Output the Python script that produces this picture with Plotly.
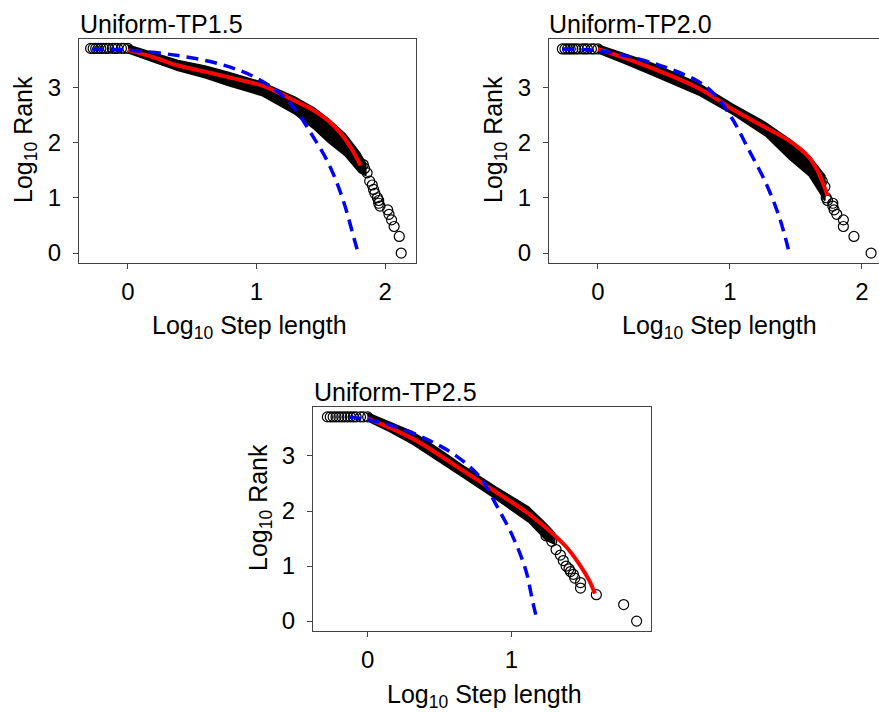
import plotly.graph_objects as go

W, H = 879, 713

# ---------------- data ----------------
titles = ["Uniform-TP1.5", "Uniform-TP2.0", "Uniform-TP2.5"]

# Panel 1 : Uniform-TP1.5
p1_flat_x = [-0.29, -0.27, -0.25, -0.23, -0.21, -0.19, -0.17, -0.15, -0.12, -0.10, -0.08, -0.05, -0.03, 0.0]
p1_flat_y = [3.70, 3.70, 3.70, 3.70, 3.70, 3.70, 3.70, 3.70, 3.70, 3.70, 3.70, 3.70, 3.70, 3.70]
p1_band_x = [0.0, 0.2, 0.39, 0.6, 0.78, 1.04, 1.30, 1.45, 1.56, 1.69, 1.80, 1.85]
p1_band_hi = [3.76, 3.62, 3.48, 3.38, 3.27, 3.09, 2.82, 2.62, 2.42, 2.15, 1.82, 1.62]
p1_band_lo = [3.62, 3.46, 3.30, 3.17, 3.03, 2.85, 2.51, 2.24, 2.00, 1.76, 1.46, 1.40]
p1_tail_x = [1.83, 1.84, 1.86, 1.88, 1.90, 1.91, 1.92, 1.94, 1.95, 1.95, 1.96, 2.02, 2.03, 2.05, 2.07, 2.11, 2.125]
p1_tail_y = [1.60, 1.53, 1.45, 1.30, 1.23, 1.15, 1.08, 1.00, 0.95, 0.90, 0.85, 0.78, 0.70, 0.60, 0.48, 0.30, 0.0]
p1_red_x = [0.0, 0.2, 0.39, 0.6, 0.78, 1.04, 1.17, 1.30, 1.43, 1.56, 1.66, 1.74, 1.81]
p1_red_y = [3.67, 3.54, 3.39, 3.28, 3.18, 3.03, 2.90, 2.75, 2.60, 2.39, 2.15, 1.88, 1.58]
p1_blue_x = [-0.28, 0.0, 0.39, 0.71, 0.96, 1.17, 1.30, 1.43, 1.56, 1.67, 1.76, 1.79]
p1_blue_y = [3.69, 3.67, 3.57, 3.42, 3.21, 2.91, 2.60, 2.14, 1.62, 0.98, 0.25, 0.0]

# Panel 2 : Uniform-TP2.0
p2_flat_x = [-0.27, -0.25, -0.23, -0.21, -0.19, -0.17, -0.15, -0.12, -0.10, -0.08, -0.05, -0.03, 0.0]
p2_flat_y = [3.69, 3.69, 3.69, 3.69, 3.69, 3.69, 3.69, 3.69, 3.69, 3.69, 3.69, 3.69, 3.69]
p2_band_x = [0.0, 0.2, 0.39, 0.6, 0.77, 1.02, 1.27, 1.45, 1.60, 1.72]
p2_band_hi = [3.76, 3.60, 3.45, 3.24, 3.06, 2.69, 2.36, 2.06, 1.76, 1.40]
p2_band_lo = [3.62, 3.43, 3.24, 3.03, 2.85, 2.51, 2.12, 1.70, 1.40, 0.95]
p2_tail_x = [1.70, 1.72, 1.73, 1.74, 1.78, 1.78, 1.79, 1.81, 1.86, 1.86, 1.94, 2.07]
p2_tail_y = [1.30, 1.20, 1.00, 0.95, 0.90, 0.85, 0.78, 0.70, 0.60, 0.48, 0.30, 0.0]
p2_red_x = [0.0, 0.39, 0.77, 1.02, 1.27, 1.45, 1.60, 1.67, 1.74]
p2_red_y = [3.69, 3.36, 2.97, 2.60, 2.27, 2.03, 1.73, 1.46, 1.04]
p2_blue_x = [-0.27, 0.0, 0.26, 0.51, 0.77, 0.89, 1.02, 1.14, 1.27, 1.37, 1.42, 1.45]
p2_blue_y = [3.69, 3.66, 3.54, 3.36, 3.09, 2.85, 2.42, 1.88, 1.28, 0.68, 0.28, 0.0]

# Panel 3 : Uniform-TP2.5
p3_flat_x = [-0.28, -0.26, -0.24, -0.22, -0.20, -0.18, -0.16, -0.14, -0.12, -0.10, -0.08, -0.05, -0.03, 0.0]
p3_flat_y = [3.71, 3.71, 3.71, 3.71, 3.71, 3.71, 3.71, 3.71, 3.71, 3.71, 3.71, 3.71, 3.71, 3.71]
p3_band_x = [0.0, 0.15, 0.31, 0.5, 0.66, 0.89, 1.12, 1.24, 1.30]
p3_band_hi = [3.78, 3.62, 3.44, 3.12, 2.83, 2.44, 2.07, 1.77, 1.60]
p3_band_lo = [3.64, 3.45, 3.22, 2.90, 2.62, 2.22, 1.80, 1.47, 1.40]
p3_tail_x = [1.24, 1.28, 1.31, 1.34, 1.36, 1.38, 1.40, 1.41, 1.43, 1.44, 1.48, 1.48, 1.59, 1.78, 1.87]
p3_tail_y = [1.55, 1.45, 1.30, 1.20, 1.10, 1.00, 0.95, 0.90, 0.85, 0.78, 0.70, 0.60, 0.48, 0.30, 0.0]
p3_red_x = [0.0, 0.31, 0.66, 0.89, 1.12, 1.26, 1.38, 1.47, 1.54, 1.58]
p3_red_y = [3.68, 3.32, 2.74, 2.35, 1.95, 1.65, 1.35, 1.04, 0.74, 0.50]
p3_blue_x = [-0.13, 0.0, 0.2, 0.43, 0.61, 0.78, 0.89, 1.01, 1.10, 1.15, 1.18]
p3_blue_y = [3.71, 3.66, 3.53, 3.28, 3.01, 2.62, 2.13, 1.53, 0.92, 0.32, 0.0]

x_ticks_12 = [0, 1, 2]
x_ticks_3 = [0, 1]
y_ticks = [0, 1, 2, 3]

panels = [
    dict(flat=(p1_flat_x, p1_flat_y), band=(p1_band_x, p1_band_hi, p1_band_lo),
         tail=(p1_tail_x, p1_tail_y), red=(p1_red_x, p1_red_y), blue=(p1_blue_x, p1_blue_y),
         xr=[-0.38, 2.24], yr=[-0.18, 3.87], xt=x_ticks_12,
         px=(79, 416), py=(39, 263)),
    dict(flat=(p2_flat_x, p2_flat_y), band=(p2_band_x, p2_band_hi, p2_band_lo),
         tail=(p2_tail_x, p2_tail_y), red=(p2_red_x, p2_red_y), blue=(p2_blue_x, p2_blue_y),
         xr=[-0.371, 2.13], yr=[-0.18, 3.87], xt=x_ticks_12,
         px=(549, 879), py=(39, 263)),
    dict(flat=(p3_flat_x, p3_flat_y), band=(p3_band_x, p3_band_hi, p3_band_lo),
         tail=(p3_tail_x, p3_tail_y), red=(p3_red_x, p3_red_y), blue=(p3_blue_x, p3_blue_y),
         xr=[-0.38, 1.97], yr=[-0.18, 3.89], xt=x_ticks_3,
         px=(313, 651), py=(407, 631)),
]

FONT = "Arial, Liberation Sans, Helvetica, sans-serif"
fig = go.Figure()
marker = dict(symbol="circle-open", size=10, color="black", line=dict(width=1.2, color="black"))

for i, p in enumerate(panels, start=1):
    xa = "x" if i == 1 else f"x{i}"
    ya = "y" if i == 1 else f"y{i}"
    bx, bhi, blo = p["band"]
    poly_x = list(bx) + list(reversed(bx))
    poly_y = list(bhi) + list(reversed(blo))
    fig.add_trace(go.Scatter(x=poly_x, y=poly_y, mode="lines", fill="toself",
                             fillcolor="black", line=dict(color="black", width=1.5),
                             xaxis=xa, yaxis=ya, showlegend=False, hoverinfo="skip"))
    fig.add_trace(go.Scatter(x=p["flat"][0], y=p["flat"][1], mode="markers", marker=marker,
                             xaxis=xa, yaxis=ya, showlegend=False))
    fig.add_trace(go.Scatter(x=p["tail"][0], y=p["tail"][1], mode="markers", marker=marker,
                             xaxis=xa, yaxis=ya, showlegend=False))
    fig.add_trace(go.Scatter(x=p["red"][0], y=p["red"][1], mode="lines",
                             line=dict(color="#ff0000", width=4, shape="spline"),
                             xaxis=xa, yaxis=ya, showlegend=False))
    fig.add_trace(go.Scatter(x=p["blue"][0], y=p["blue"][1], mode="lines",
                             line=dict(color="#0000ff", width=3.5, dash="12px,7px", shape="spline"),
                             xaxis=xa, yaxis=ya, showlegend=False))

    axis_common = dict(showgrid=False, zeroline=False, showline=True, mirror=True,
                       automargin=False,
                       linecolor="#444", linewidth=1, ticks="outside", ticklen=5,
                       tickcolor="#444", tickfont=dict(family=FONT, size=24, color="black"))
    xdom = [p["px"][0] / W, p["px"][1] / W]
    ydom = [1 - p["py"][1] / H, 1 - p["py"][0] / H]
    xkey = "xaxis" if i == 1 else f"xaxis{i}"
    ykey = "yaxis" if i == 1 else f"yaxis{i}"
    fig.update_layout(**{
        xkey: dict(domain=xdom, range=p["xr"], tickvals=p["xt"], anchor=ya,
                   ticklabelstandoff=2, **axis_common),
        ykey: dict(domain=ydom, range=p["yr"], tickvals=y_ticks, anchor=xa,
                   ticklabelstandoff=7, **axis_common),
    })

# titles and axis titles as annotations (pixel positions)
def ann(text, x, y, xanchor="center", yanchor="middle", angle=0, size=25):
    fig.add_annotation(text=text, x=x / W, y=1 - y / H, xref="paper", yref="paper",
                       xanchor=xanchor, yanchor=yanchor, textangle=angle, showarrow=False,
                       font=dict(family=FONT, size=size, color="black"))

ann(titles[0], 78, 24, xanchor="left")
ann(titles[1], 547, 24, xanchor="left")
ann(titles[2], 312, 392, xanchor="left")

xt_text = "Log<sub>10</sub> Step length"
yt_text = "Log<sub>10</sub> Rank"
ann(xt_text, 249, 327)
ann(xt_text, 719, 327)
ann(xt_text, 484, 696)
ann(yt_text, 25, 140, angle=-90)
ann(yt_text, 495, 140, angle=-90)
ann(yt_text, 260, 508, angle=-90)

fig.update_layout(template="none", width=W, height=H, margin=dict(l=0, r=0, t=0, b=0, autoexpand=False),
                  paper_bgcolor="white", plot_bgcolor="white", showlegend=False)

fig.write_html("out.html", config={"displayModeBar": False},
               post_script="document.body.style.margin='0';document.body.style.padding='0';document.body.style.overflow='hidden';")
